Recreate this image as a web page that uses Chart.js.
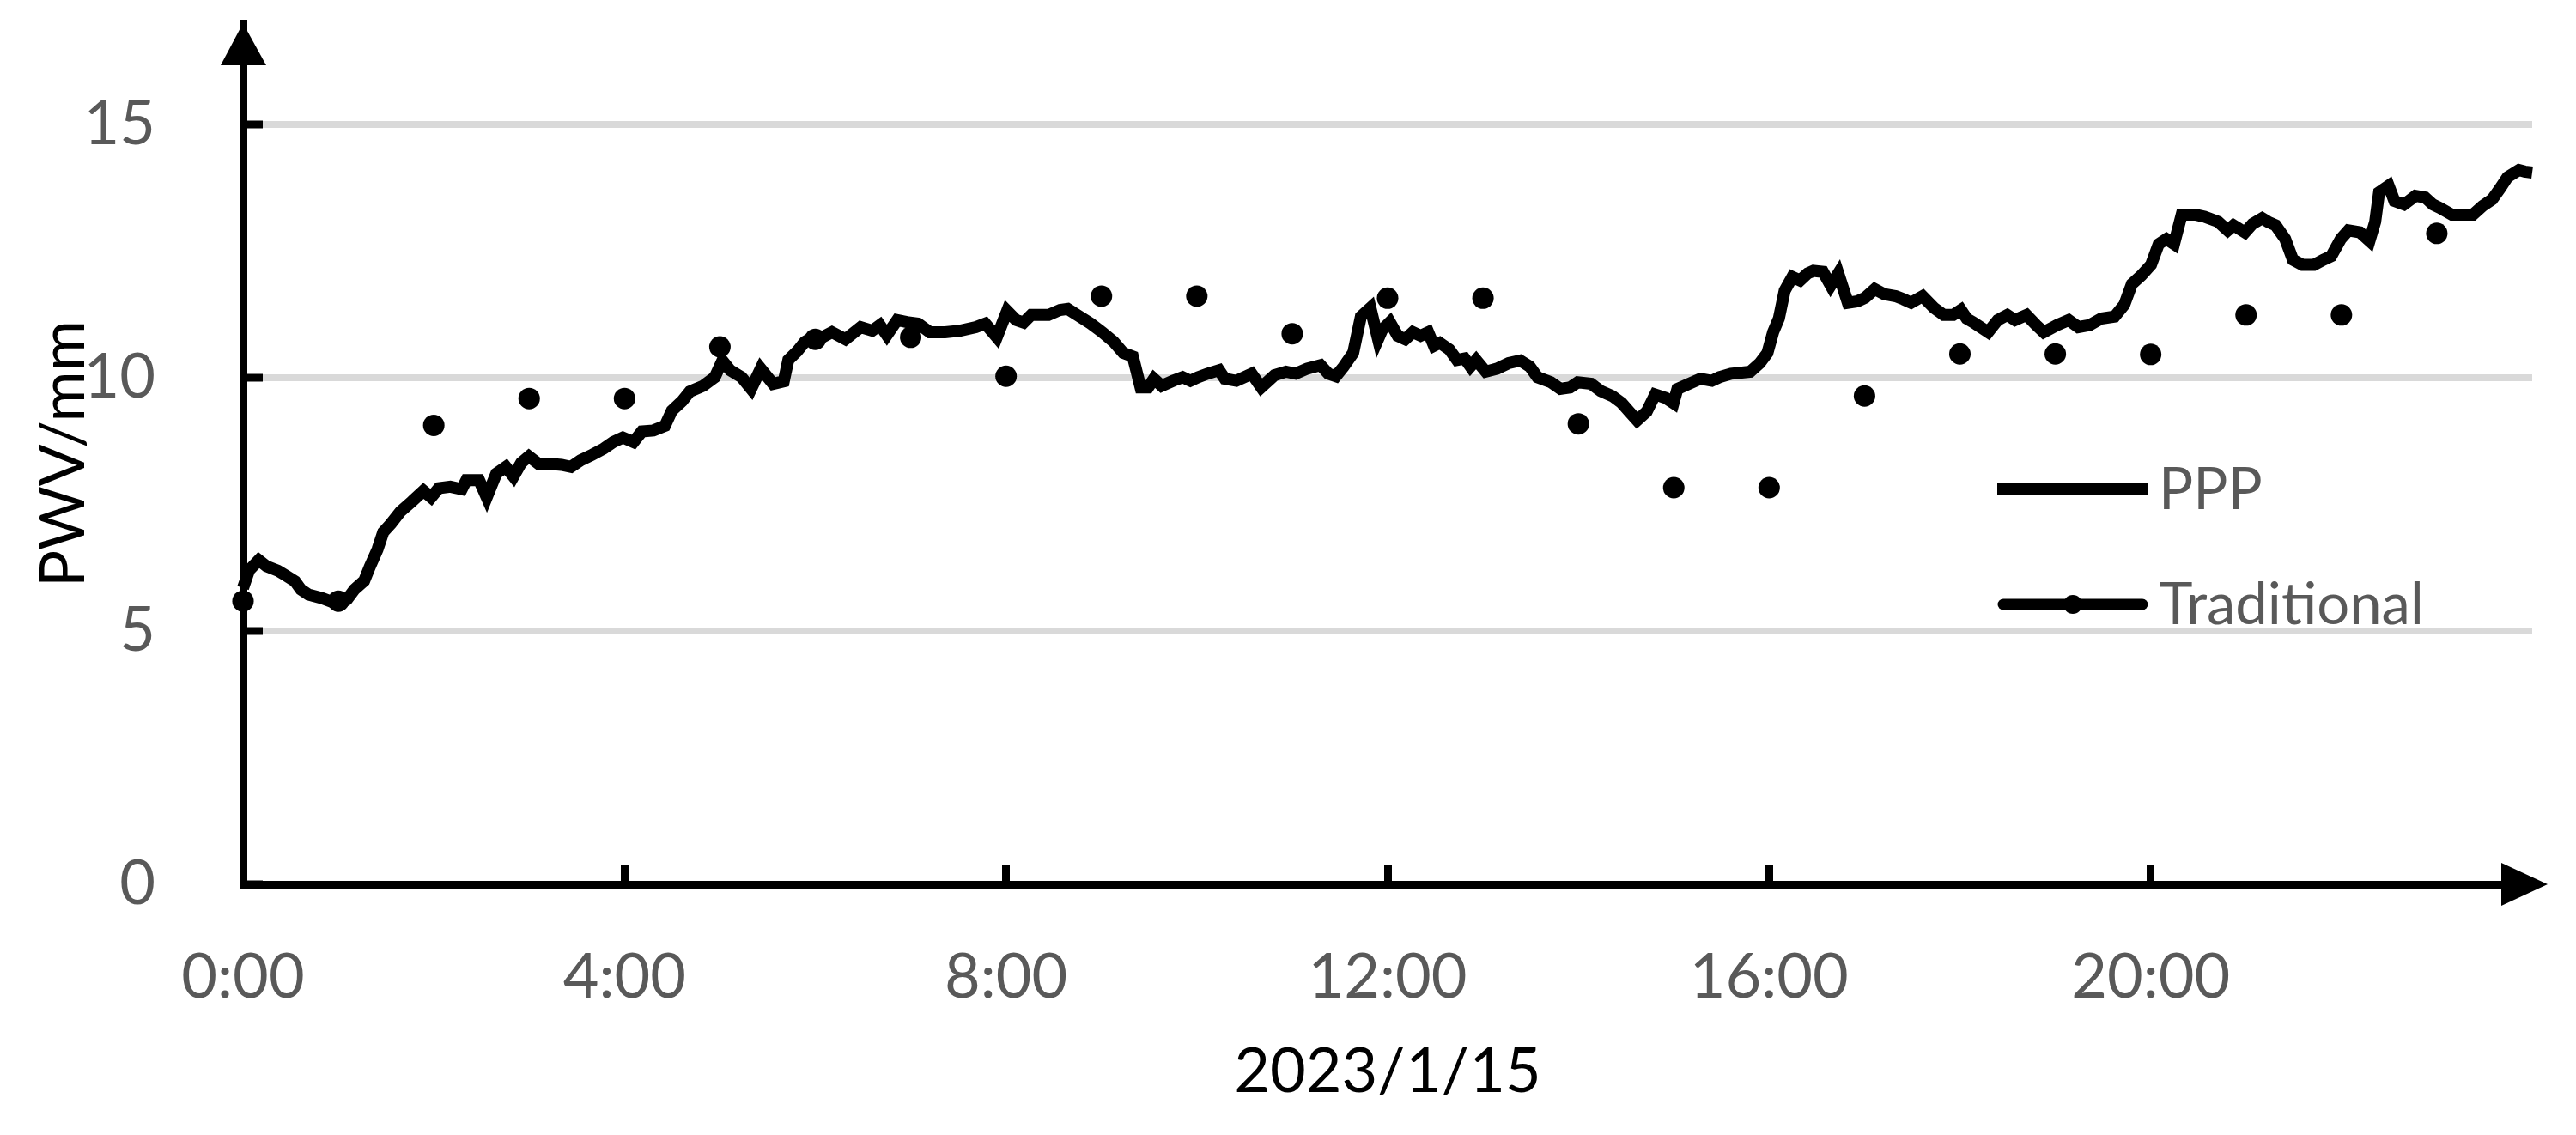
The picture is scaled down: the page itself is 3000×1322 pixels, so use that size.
<!DOCTYPE html>
<html>
<head>
<meta charset="utf-8">
<title>PWV 2023/1/15</title>
<script src="https://cdn.jsdelivr.net/npm/chart.js@4.4.1/dist/chart.umd.min.js"></script>
<style>
    html, body { margin: 0; padding: 0; background: #fff; }
    #wrap { width: 3000px; height: 1322px; }
</style>
</head>
<body>
<div id="wrap"><canvas id="pwv" width="3000" height="1322"></canvas></div>
<script>
"use strict";

// PPP series, hour of day / PWV in mm (vertices)
const pppHours = [
    0, 0.064, 0.165, 0.245, 0.366, 0.446, 0.546, 0.607, 0.687, 0.828, 0.928, 1.008, 1.089, 1.169, 1.270, 1.330,
    1.410, 1.470, 1.551, 1.651, 1.772, 1.892, 1.973, 2.053, 2.174, 2.294, 2.342, 2.475, 2.555, 2.656, 2.756, 2.836,
    2.917, 2.997, 3.098, 3.218, 3.339, 3.439, 3.540, 3.660, 3.781, 3.881, 3.982, 4.094, 4.182, 4.303, 4.423, 4.496,
    4.604, 4.685, 4.825, 4.946, 5.026, 5.106, 5.227, 5.327, 5.428, 5.557, 5.669, 5.717, 5.809, 5.890, 5.990,
    6.075, 6.175, 6.316, 6.476, 6.597, 6.677, 6.750, 6.858, 6.959, 7.079, 7.200, 7.360, 7.521, 7.682, 7.782, 7.903,
    8.011, 8.104, 8.184, 8.264, 8.445, 8.566, 8.646, 8.746, 8.887, 9.008, 9.128, 9.229, 9.329, 9.410, 9.490, 9.550,
    9.631, 9.751, 9.851, 9.932, 10.012, 10.112, 10.233, 10.293, 10.414, 10.575, 10.675, 10.815, 10.936, 11.036,
    11.157, 11.297, 11.378, 11.458, 11.539, 11.639, 11.720, 11.820, 11.900, 11.944,
    12.024, 12.105, 12.185, 12.265, 12.346, 12.426, 12.486, 12.547, 12.647, 12.727, 12.808, 12.868, 12.928, 13.029,
    13.149, 13.270, 13.390, 13.491, 13.571, 13.712, 13.812, 13.913, 13.993, 14.134, 14.234, 14.355, 14.455, 14.535,
    14.616, 14.716, 14.805, 14.917, 14.997, 15.038, 15.158, 15.279, 15.399, 15.479, 15.600, 15.801, 15.902, 15.982,
    16.042, 16.102, 16.163, 16.243, 16.324, 16.404, 16.464, 16.565, 16.645, 16.725, 16.825, 16.926, 17.006, 17.107,
    17.207, 17.328, 17.408, 17.488, 17.609, 17.729, 17.830, 17.930, 18.011,
    18.071, 18.136, 18.296, 18.397, 18.497, 18.578, 18.698, 18.799, 18.879, 19.020, 19.140, 19.241, 19.361, 19.482,
    19.622, 19.723, 19.803, 19.903, 20.004, 20.084, 20.165, 20.245, 20.325, 20.466, 20.566, 20.707, 20.807, 20.868,
    20.988, 21.069, 21.169, 21.229, 21.310, 21.410, 21.491, 21.591, 21.712, 21.812, 21.893, 21.993, 22.073, 22.194,
    22.294, 22.354, 22.395, 22.495, 22.555, 22.656, 22.776, 22.877, 22.957, 23.037, 23.158, 23.278, 23.379, 23.479,
    23.580, 23.660, 23.741, 23.861, 23.921, 24
];
const pppPwv = [
    5.85, 6.20, 6.40, 6.28, 6.19, 6.10, 5.98, 5.82, 5.72, 5.65, 5.58, 5.53, 5.62, 5.82, 5.99, 6.27,
    6.61, 6.95, 7.12, 7.36, 7.56, 7.77, 7.64, 7.82, 7.85, 7.80, 7.98, 7.98, 7.64, 8.11, 8.24, 8.05,
    8.32, 8.45, 8.30, 8.30, 8.28, 8.24, 8.37, 8.48, 8.60, 8.73, 8.82, 8.73, 8.94, 8.96, 9.05, 9.35,
    9.54, 9.73, 9.84, 10.01, 10.34, 10.15, 10.01, 9.78, 10.18, 9.88, 9.93, 10.35, 10.52, 10.71, 10.82,
    10.80, 10.90, 10.76, 11.00, 10.93, 11.04, 10.84, 11.14, 11.10, 11.07, 10.90, 10.90, 10.93, 11.00, 11.07, 10.80,
    11.32, 11.14, 11.09, 11.24, 11.24, 11.34, 11.36, 11.24, 11.07, 10.90, 10.71, 10.49, 10.42, 9.81, 9.81, 9.98,
    9.84, 9.94, 10.01, 9.94, 10.01, 10.08, 10.15, 9.98, 9.94, 10.08, 9.81, 10.05, 10.12, 10.08,
    10.18, 10.25, 10.08, 10.03, 10.22, 10.49, 11.21, 11.38, 10.76, 10.95,
    11.10, 10.83, 10.76, 10.90, 10.83, 10.90, 10.63, 10.69, 10.56, 10.35, 10.38, 10.22, 10.35, 10.12,
    10.18, 10.29, 10.34, 10.22, 10.01, 9.91, 9.78, 9.81, 9.91, 9.88, 9.74, 9.64, 9.50, 9.33,
    9.16, 9.33, 9.67, 9.60, 9.50, 9.78, 9.88, 9.98, 9.94, 10.01, 10.08, 10.12, 10.29, 10.49,
    10.90, 11.17, 11.72, 11.99, 11.92, 12.06, 12.11, 12.09, 11.82, 12.06, 11.48, 11.51, 11.58, 11.75,
    11.65, 11.61, 11.55, 11.48, 11.61, 11.38, 11.24, 11.24, 11.34,
    11.17, 11.10, 10.90, 11.14, 11.24, 11.14, 11.24, 11.04, 10.90, 11.04, 11.14, 11.00, 11.04, 11.17,
    11.21, 11.44, 11.85, 12.02, 12.23, 12.64, 12.74, 12.64, 13.22, 13.22, 13.18, 13.08, 12.91, 13.01,
    12.87, 13.04, 13.15, 13.08, 13.01, 12.74, 12.33, 12.23, 12.23, 12.33, 12.40, 12.74, 12.91, 12.87,
    12.70, 13.08, 13.66, 13.79, 13.49, 13.42, 13.59, 13.56, 13.42, 13.35, 13.22, 13.22, 13.22, 13.39,
    13.52, 13.73, 13.96, 14.10, 14.07, 14.05
];

// Traditional series, one value per hour
const tradHours = [0, 1, 2, 3, 4, 5, 6, 7, 8, 9, 10, 11, 12, 13, 14, 15, 16, 17, 18, 19, 20, 21, 22, 23];
const tradPwv = [5.59, 5.59, 9.06, 9.59, 9.59, 10.61, 10.76, 10.80, 10.03, 11.61, 11.61, 10.87,
    11.57, 11.57, 9.09, 7.83, 7.83, 9.64, 10.47, 10.47, 10.46, 11.24, 11.24, 12.85];

const seriesNames = ['PPP', 'Traditional'];
const xTitle = '2023/1/15';
const yTitle = 'PWV/mm';

const fontFamily = 'Lato, "Open Sans", sans-serif';
const labelGrey = '#595959';

function toPoints(xs, ys) {
    return xs.map((x, i) => ({x: x, y: ys[i]}));
}

// arrow heads at the end of both axes
const axisArrows = {
    id: 'axisArrows',
    afterDraw(chart) {
        const ctx = chart.ctx;
        const area = chart.chartArea;
        ctx.save();
        ctx.fillStyle = '#000';
        ctx.beginPath();
        ctx.moveTo(area.left, area.top);
        ctx.lineTo(area.left - 26, area.top + 49);
        ctx.lineTo(area.left + 27, area.top + 49);
        ctx.closePath();
        ctx.fill();
        ctx.beginPath();
        ctx.moveTo(area.right + 18, area.bottom);
        ctx.lineTo(area.right - 36, area.bottom - 25);
        ctx.lineTo(area.right - 36, area.bottom + 25);
        ctx.closePath();
        ctx.fill();
        ctx.restore();
    }
};

// legend sitting inside the plot, right side
const pwvLegend = {
    id: 'pwvLegend',
    afterDraw(chart) {
        const ctx = chart.ctx;
        const right = chart.chartArea.right;
        const x1 = right - 623;
        const x2 = right - 447;
        const rows = [570, 704];
        ctx.save();
        chart.data.datasets.forEach((ds, i) => {
            const y = rows[i];
            ctx.strokeStyle = '#000';
            ctx.beginPath();
            if (i === 0) {
                ctx.lineWidth = 14;
                ctx.lineCap = 'butt';
                ctx.moveTo(x1, y);
                ctx.lineTo(x2, y);
            } else {
                ctx.lineWidth = 13;
                ctx.lineCap = 'round';
                ctx.moveTo(x1 + 7, y);
                ctx.lineTo(x2 - 7, y);
            }
            ctx.stroke();
            if (i === 1) {
                ctx.fillStyle = '#000';
                ctx.beginPath();
                ctx.arc((x1 + x2) / 2, y, 11, 0, Math.PI * 2);
                ctx.fill();
            }
            ctx.fillStyle = labelGrey;
            ctx.font = '67px ' + fontFamily;
            ctx.textBaseline = 'alphabetic';
            ctx.textAlign = 'left';
            ctx.fillText(ds.label, right - 435, y + 23);
        });
        ctx.restore();
    }
};

Chart.defaults.font.family = fontFamily;

new Chart(document.getElementById('pwv'), {
    type: 'line',
    data: {
        datasets: [{
            label: seriesNames[0],
            data: toPoints(pppHours, pppPwv),
            borderColor: '#000',
            backgroundColor: '#000',
            borderWidth: 14,
            pointRadius: 0,
            tension: 0,
            clip: false
        }, {
            label: seriesNames[1],
            data: toPoints(tradHours, tradPwv),
            showLine: false,
            borderColor: '#000',
            backgroundColor: '#000',
            pointRadius: 12.5,
            pointBorderWidth: 0,
            clip: false
        }]
    },
    options: {
        responsive: false,
        animation: false,
        devicePixelRatio: 1,
        layout: {
            padding: {top: 27, right: 51, left: 0, bottom: 0}
        },
        plugins: {
            legend: {display: false},
            tooltip: {enabled: false}
        },
        scales: {
            x: {
                type: 'linear',
                min: 0,
                max: 24,
                afterFit(scale) {
                    scale.height = 292;
                    scale.paddingLeft = 0;
                    scale.paddingRight = 0;
                },
                afterBuildTicks(scale) {
                    scale.ticks = scale.ticks.filter(t => t.value < 24);
                },
                ticks: {
                    stepSize: 4,
                    includeBounds: false,
                    autoSkip: false,
                    maxRotation: 0,
                    color: labelGrey,
                    font: {size: 72},
                    padding: 88,
                    callback: v => v + ':00'
                },
                grid: {
                    drawOnChartArea: false,
                    tickLength: -22,
                    tickColor: '#000',
                    tickWidth: 9
                },
                border: {color: '#000', width: 9},
                title: {
                    display: true,
                    text: xTitle,
                    color: '#000',
                    font: {size: 72},
                    padding: {top: 0, bottom: 30}
                }
            },
            y: {
                min: 0,
                max: 17,
                afterFit(scale) {
                    scale.width = 283;
                    scale.paddingTop = 0;
                    scale.paddingBottom = 0;
                },
                ticks: {
                    stepSize: 5,
                    includeBounds: false,
                    color: labelGrey,
                    font: {size: 72},
                    padding: 125
                },
                grid: {
                    color: c => (c.tick && c.tick.value === 0) ? 'rgba(0,0,0,0)' : '#d9d9d9',
                    lineWidth: 8,
                    tickLength: -23,
                    tickColor: '#000',
                    tickWidth: 9
                },
                border: {color: '#000', width: 9},
                title: {
                    display: true,
                    text: yTitle,
                    color: '#000',
                    font: {size: 72},
                    padding: {top: 32, bottom: 0}
                }
            }
        }
    },
    plugins: [axisArrows, pwvLegend]
});
</script>
</body>
</html>
